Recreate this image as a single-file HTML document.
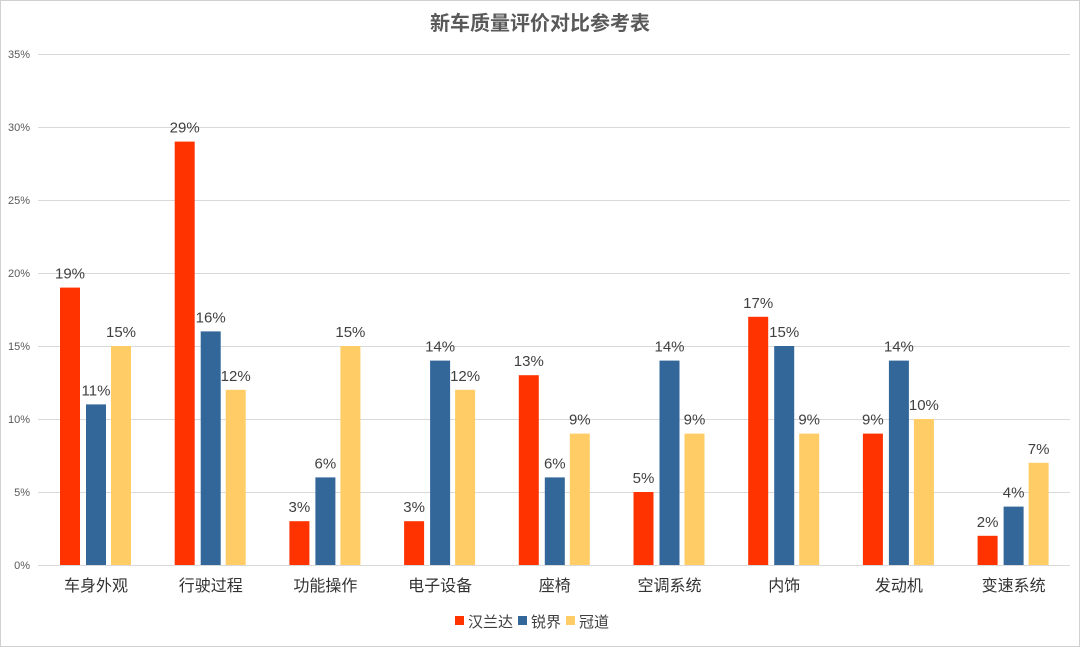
<!DOCTYPE html>
<html><head><meta charset="utf-8"><style>
body{margin:0;background:#fff}
svg{display:block;font-family:"Liberation Sans","Noto Sans CJK SC",sans-serif}
</style></head><body>
<svg width="1080" height="647" xmlns="http://www.w3.org/2000/svg">
<rect x="0.5" y="0.5" width="1079" height="646" fill="#fff" stroke="#d0d0d0"/>
<text x="540" y="30" text-anchor="middle" font-size="20" fill="#595959" font-weight="bold">新车质量评价对比参考表</text>
<g stroke="#d9d9d9" stroke-width="1">
<line x1="38" x2="1070" y1="54.5" y2="54.5"/><line x1="38" x2="1070" y1="127.5" y2="127.5"/>
<line x1="38" x2="1070" y1="200.5" y2="200.5"/><line x1="38" x2="1070" y1="273.5" y2="273.5"/>
<line x1="38" x2="1070" y1="346.5" y2="346.5"/><line x1="38" x2="1070" y1="419.5" y2="419.5"/>
<line x1="38" x2="1070" y1="492.5" y2="492.5"/><line x1="38" x2="1070" y1="565.5" y2="565.5"/>
</g>
<g font-size="11" fill="#595959" text-anchor="end">
<text x="30" y="58">35%</text><text x="30" y="131">30%</text><text x="30" y="204">25%</text>
<text x="30" y="277">20%</text><text x="30" y="350">15%</text><text x="30" y="423">10%</text>
<text x="30" y="496">5%</text><text x="30" y="569">0%</text>
</g>
<g id="bars"></g>
<g font-size="15" fill="#404040" text-anchor="middle" id="lbl"></g>
<g font-size="16" fill="#333" text-anchor="middle" id="cat"></g>
<g font-size="15" fill="#404040">
<rect x="455" y="616" width="9" height="9" fill="#FF3300"/><text x="468" y="627">汉兰达</text>
<rect x="518" y="616" width="9" height="9" fill="#336699"/><text x="531" y="627">锐界</text>
<rect x="566" y="616" width="9" height="9" fill="#FFCC66"/><text x="579" y="627">冠道</text>
</g>
</svg>
<script>
var cats=["车身外观","行驶过程","功能操作","电子设备","座椅","空调系统","内饰","发动机","变速系统"];
var d=[[19,11,15],[29,16,12],[3,6,15],[3,14,12],[13,6,9],[5,14,9],[17,15,9],[9,14,10],[2,4,7]];
var col=["#FF3300","#336699","#FFCC66"],off=[-36,-10,15];
var ns="http://www.w3.org/2000/svg",b=document.getElementById("bars"),l=document.getElementById("lbl"),c=document.getElementById("cat");
function el(p,tag,a,t){var e=document.createElementNS(ns,tag);for(var k in a)e.setAttribute(k,a[k]);if(t)e.textContent=t;p.appendChild(e);}
for(var i=0;i<9;i++){var cx=96+114.7*i;
el(c,"text",{x:cx,y:591},cats[i]);
for(var j=0;j<3;j++){var v=d[i][j],h=v*14.6,x=cx+off[j];
el(b,"rect",{x:x,y:565-h,width:20,height:h,fill:col[j]});
el(l,"text",{x:x+10,y:565-h-9},v+"%");}}
</script>
</body></html>
